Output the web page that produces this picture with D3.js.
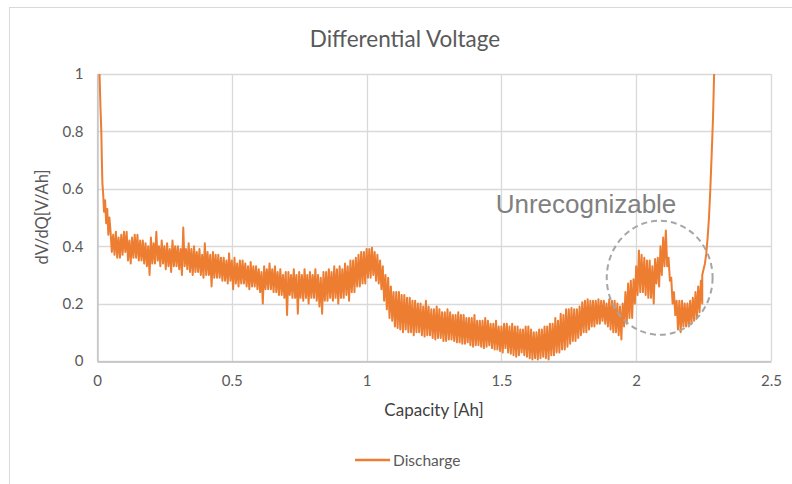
<!DOCTYPE html>
<html>
<head>
<meta charset="utf-8">
<script src="https://cdn.jsdelivr.net/npm/d3@7"></script>
<style>
  body { margin: 0; background: #fff; }
  svg { display: block; font-family: Lato, "Open Sans", sans-serif; }
</style>
</head>
<body>
<svg id="chart" width="792" height="484"></svg>
<script>
// Chart text
const chartTitle = "Differential Voltage";
const xTitle = "Capacity [Ah]";
const yTitle = "dV/dQ[V/Ah]";
const seriesName = "Discharge";
const noteText = "Unrecognizable";

// Axis ticks
const xTicks = [0, 0.5, 1, 1.5, 2, 2.5];
const yTicks = [0, 0.2, 0.4, 0.6, 0.8, 1];

// Steep start of the curve (capacity, dV/dQ)
const headCapacity = [0.008, 0.01, 0.013, 0.016, 0.018, 0.02, 0.023, 0.026, 0.03, 0.034, 0.038, 0.042, 0.046];
const headValues = [1.05, 0.98, 0.88, 0.8, 0.7, 0.62, 0.58, 0.52, 0.56, 0.48, 0.53, 0.44, 0.5];

// Noisy body, read every 0.01 Ah from 0.05 Ah to 2.24 Ah:
// upper edge of the noise at each step, lower edge half a step later
const bodyStart = 0.05;
const bodyStep = 0.01;
const bandTop = [
  0.455, 0.44, 0.45, 0.43, 0.44, 0.45, 0.45, 0.42, 0.43, 0.44,   // 0.05
  0.44, 0.42, 0.42, 0.41, 0.40, 0.43, 0.41, 0.45, 0.40, 0.42,    // 0.15
  0.40, 0.41, 0.39, 0.42, 0.40, 0.40, 0.39, 0.465, 0.39, 0.41,   // 0.25
  0.39, 0.40, 0.38, 0.39, 0.37, 0.41, 0.38, 0.37, 0.38, 0.37,    // 0.35
  0.37, 0.36, 0.36, 0.35, 0.375, 0.35, 0.36, 0.34, 0.35, 0.35,   // 0.45
  0.34, 0.33, 0.345, 0.33, 0.33, 0.32, 0.31, 0.33, 0.32, 0.34,   // 0.55
  0.32, 0.33, 0.31, 0.32, 0.30, 0.31, 0.31, 0.30, 0.32, 0.30,    // 0.65
  0.31, 0.30, 0.32, 0.30, 0.31, 0.30, 0.32, 0.30, 0.29, 0.31,    // 0.75
  0.31, 0.32, 0.31, 0.33, 0.32, 0.33, 0.32, 0.34, 0.33, 0.35,    // 0.85
  0.35, 0.36, 0.37, 0.38, 0.38, 0.39, 0.39, 0.395, 0.38, 0.37,   // 0.95
  0.35, 0.33, 0.30, 0.29, 0.26, 0.24, 0.24, 0.24, 0.23, 0.23,    // 1.05
  0.22, 0.22, 0.21, 0.21, 0.20, 0.20, 0.19, 0.21, 0.19, 0.18,    // 1.15
  0.18, 0.19, 0.18, 0.17, 0.17, 0.18, 0.17, 0.16, 0.16, 0.17,    // 1.25
  0.16, 0.16, 0.15, 0.15, 0.15, 0.16, 0.14, 0.14, 0.14, 0.15,    // 1.35
  0.14, 0.13, 0.13, 0.14, 0.12, 0.12, 0.13, 0.13, 0.12, 0.13,    // 1.45
  0.12, 0.12, 0.11, 0.11, 0.12, 0.12, 0.11, 0.10, 0.10, 0.11,    // 1.55
  0.11, 0.12, 0.12, 0.13, 0.13, 0.15, 0.14, 0.165, 0.16, 0.18,   // 1.65
  0.18, 0.185, 0.18, 0.18, 0.19, 0.205, 0.21, 0.215, 0.21, 0.21, // 1.75
  0.21, 0.215, 0.21, 0.21, 0.20, 0.215, 0.21, 0.21, 0.20, 0.19,  // 1.85
  0.20, 0.24, 0.27, 0.28, 0.285, 0.33, 0.385, 0.37, 0.36, 0.35,  // 1.95
  0.35, 0.33, 0.355, 0.36, 0.40, 0.43, 0.455, 0.36, 0.29, 0.24,  // 2.05
  0.21, 0.21, 0.21, 0.20, 0.20, 0.21, 0.22, 0.24, 0.26, 0.28     // 2.15
];
const bandBottom = [
  0.38, 0.37, 0.36, 0.36, 0.37, 0.38, 0.35, 0.34, 0.36, 0.36,    // 0.05
  0.35, 0.35, 0.34, 0.33, 0.30, 0.34, 0.34, 0.35, 0.33, 0.34,    // 0.15
  0.32, 0.33, 0.31, 0.33, 0.33, 0.32, 0.30, 0.33, 0.32, 0.31,    // 0.25
  0.30, 0.31, 0.31, 0.30, 0.29, 0.30, 0.30, 0.26, 0.29, 0.29,    // 0.35
  0.29, 0.28, 0.28, 0.27, 0.28, 0.25, 0.27, 0.26, 0.27, 0.27,    // 0.45
  0.26, 0.25, 0.26, 0.26, 0.25, 0.24, 0.20, 0.25, 0.25, 0.25,    // 0.55
  0.24, 0.24, 0.23, 0.23, 0.22, 0.16, 0.23, 0.22, 0.22, 0.165,   // 0.65
  0.22, 0.21, 0.22, 0.20, 0.22, 0.22, 0.21, 0.19, 0.165, 0.21,   // 0.75
  0.21, 0.22, 0.21, 0.22, 0.20, 0.22, 0.22, 0.23, 0.21, 0.24,    // 0.85
  0.24, 0.26, 0.26, 0.27, 0.27, 0.29, 0.29, 0.30, 0.28, 0.27,    // 0.95
  0.25, 0.21, 0.18, 0.15, 0.14, 0.12, 0.115, 0.11, 0.10, 0.11,   // 1.05
  0.10, 0.10, 0.09, 0.10, 0.10, 0.09, 0.085, 0.09, 0.09, 0.08,   // 1.15
  0.075, 0.08, 0.08, 0.07, 0.07, 0.075, 0.075, 0.07, 0.065, 0.065, // 1.25
  0.06, 0.06, 0.065, 0.055, 0.05, 0.055, 0.055, 0.05, 0.045, 0.05, // 1.35
  0.055, 0.045, 0.04, 0.04, 0.035, 0.03, 0.045, 0.03, 0.025, 0.02, // 1.45
  0.015, 0.02, 0.03, 0.02, 0.015, 0.01, 0.005, 0.01, 0.005, 0.01,  // 1.55
  0.015, 0.01, 0.005, 0.02, 0.02, 0.03, 0.03, 0.04, 0.04, 0.05,    // 1.65
  0.06, 0.07, 0.07, 0.08, 0.09, 0.10, 0.10, 0.11, 0.12, 0.12,      // 1.75
  0.13, 0.13, 0.14, 0.13, 0.12, 0.11, 0.10, 0.10, 0.09, 0.075,     // 1.85
  0.12, 0.13, 0.15, 0.15, 0.20, 0.23, 0.24, 0.24, 0.23, 0.22,      // 1.95
  0.22, 0.20, 0.27, 0.26, 0.30, 0.33, 0.33, 0.28, 0.20, 0.16,      // 2.05
  0.11, 0.10, 0.12, 0.12, 0.12, 0.13, 0.14, 0.15, 0.17, 0.20       // 2.15
];

// Steep end of the curve
const tailCapacity = [2.245, 2.255, 2.26, 2.265, 2.27, 2.275, 2.28, 2.285, 2.289, 2.293];
const tailValues = [0.30, 0.34, 0.375, 0.43, 0.5, 0.6, 0.72, 0.85, 1.0, 1.1];

// Circled region of the annotation (capacity, dV/dQ)
const noteCircle = { cx: 2.087, cy: 0.29, r: 0.2 };

const points = [];
headCapacity.forEach((c, i) => points.push([c, headValues[i]]));
bandTop.forEach((v, i) => {
  const c = bodyStart + i * bodyStep;
  points.push([c, v]);
  points.push([c + bodyStep / 2, bandBottom[i]]);
});
tailCapacity.forEach((c, i) => points.push([c, tailValues[i]]));

const svg = d3.select("#chart");
const margin = { left: 97, right: 21, top: 74, bottom: 123 };
const width = 792, height = 484;

const x = d3.scaleLinear().domain([0, 2.5]).range([margin.left, width - margin.right]);
const y = d3.scaleLinear().domain([0, 1]).range([height - margin.bottom, margin.top]);

// chart area border
svg.append("rect")
  .attr("x", 9.5).attr("y", 7.5)
  .attr("width", 800).attr("height", 500)
  .attr("fill", "#fff")
  .attr("stroke", "#d9d9d9");

// gridlines
svg.append("g")
  .selectAll("line.h")
  .data(yTicks)
  .enter().append("line")
  .attr("x1", x(0)).attr("x2", x(2.5))
  .attr("y1", d => Math.round(y(d)) + 0.5).attr("y2", d => Math.round(y(d)) + 0.5)
  .attr("stroke", "#d9d9d9").attr("stroke-width", 1.3);

svg.append("g")
  .selectAll("line.v")
  .data(xTicks)
  .enter().append("line")
  .attr("x1", d => Math.round(x(d)) + 0.5).attr("x2", d => Math.round(x(d)) + 0.5)
  .attr("y1", y(0)).attr("y2", y(1))
  .attr("stroke", "#d9d9d9").attr("stroke-width", 1.3);

// axes
const xAxis = svg.append("g")
  .attr("transform", `translate(0,${Math.round(y(0)) + 0.5})`)
  .call(d3.axisBottom(x).tickValues(xTicks).tickSize(0).tickPadding(14).tickFormat(d3.format("")));
const yAxis = svg.append("g")
  .attr("transform", `translate(${Math.round(x(0)) + 0.5},0)`)
  .call(d3.axisLeft(y).tickValues(yTicks).tickSize(0).tickPadding(14).tickFormat(d3.format("")));

[xAxis, yAxis].forEach(a => {
  a.select(".domain").attr("stroke", "#bfbfbf").attr("stroke-width", 1.3);
  a.selectAll("text").attr("fill", "#595959").attr("font-size", 15).attr("font-family", "Lato, sans-serif");
});

// data line
svg.append("clipPath").attr("id", "plotClip")
  .append("rect")
  .attr("x", x(0)).attr("y", y(1))
  .attr("width", x(2.5) - x(0)).attr("height", y(0) - y(1));

const line = d3.line().x(d => x(d[0])).y(d => y(d[1]));
svg.append("path")
  .datum(points)
  .attr("clip-path", "url(#plotClip)")
  .attr("fill", "none")
  .attr("stroke", "#ED7D31")
  .attr("stroke-width", 2)
  .attr("stroke-linejoin", "round")
  .attr("d", line);

// annotation
svg.append("ellipse")
  .attr("cx", x(noteCircle.cx)).attr("cy", y(noteCircle.cy))
  .attr("rx", x(noteCircle.cx + noteCircle.r) - x(noteCircle.cx) - 1)
  .attr("ry", 57)
  .attr("fill", "none")
  .attr("stroke", "#a6a6a6")
  .attr("stroke-width", 2)
  .attr("stroke-dasharray", "6,4");

svg.append("text")
  .attr("x", 586).attr("y", 213)
  .attr("text-anchor", "middle")
  .attr("font-family", "Liberation Sans, Arial, sans-serif")
  .attr("font-size", 26)
  .attr("fill", "#808080")
  .text(noteText);

// titles
svg.append("text")
  .attr("x", 405).attr("y", 47)
  .attr("text-anchor", "middle")
  .attr("font-size", 22.5)
  .attr("fill", "#595959")
  .text(chartTitle);

svg.append("text")
  .attr("x", 434).attr("y", 416)
  .attr("text-anchor", "middle")
  .attr("font-size", 17)
  .attr("fill", "#404040")
  .text(xTitle);

svg.append("text")
  .attr("transform", "translate(48,217) rotate(-90)")
  .attr("text-anchor", "middle")
  .attr("font-size", 16.5)
  .attr("fill", "#595959")
  .text(yTitle);

// legend
const legend = svg.append("g").attr("transform", "translate(355,460)");
legend.append("line")
  .attr("x1", 0).attr("x2", 35)
  .attr("stroke", "#ED7D31").attr("stroke-width", 2.5);
legend.append("text")
  .attr("x", 38).attr("y", 5.5)
  .attr("font-size", 15.5)
  .attr("fill", "#595959")
  .text(seriesName);
</script>
</body>
</html>
